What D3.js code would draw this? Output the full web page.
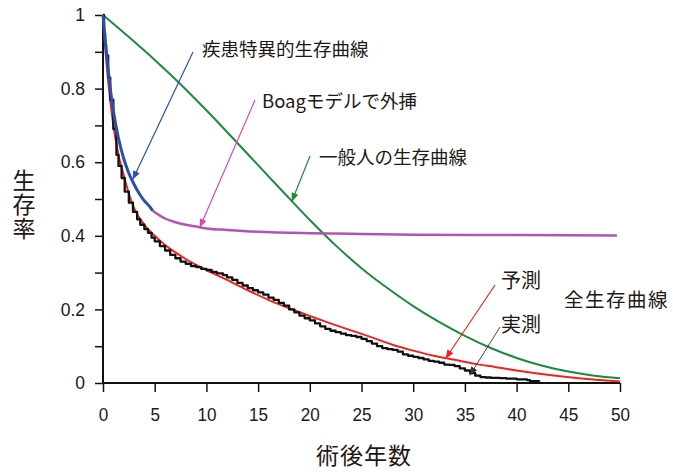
<!DOCTYPE html>
<html><head><meta charset="utf-8">
<script src="https://cdn.jsdelivr.net/npm/d3@7"></script>
<style>
html,body{margin:0;padding:0;background:#fff;}
svg{display:block;}
.tick text{font-family:"Liberation Sans",Arial,sans-serif;fill:#231815;}
.jp{font-family:"Noto Sans CJK JP","Noto Sans CJK SC",sans-serif;fill:#231815;}
</style></head>
<body>
<svg id="chart" width="673" height="472"></svg>
<script>
// ---- data ----
const xTicks = [0,5,10,15,20,25,30,35,40,45,50];
const yTickLabels = [0,0.2,0.4,0.6,0.8,1];
const yMinorTicks = [0,0.1,0.2,0.3,0.4,0.5,0.6,0.7,0.8,0.9,1];

// general population survival (green)
const generalYears  = [0,2.5,5,7.5,10,12.5,15,17.5,20,22.5,25,27.5,30,32.5,35,37.5,40,42.5,45,47.5,50];
const generalValues = [1,0.94,0.878,0.812,0.741,0.667,0.592,0.517,0.443,0.374,0.312,0.258,0.209,0.166,0.128,0.095,0.068,0.047,0.031,0.02,0.013];

// predicted overall survival (red)
const predYears  = [0,0.25,0.5,1,1.5,2,2.5,3,4,5,6,7,8,10,12,14,16,18,20,22,24,26,28,30,32,34,36,38,40,42,44,46,48,50];
const predValues = [1,0.9,0.82,0.70,0.62,0.565,0.515,0.475,0.43,0.40,0.375,0.355,0.337,0.307,0.28,0.252,0.226,0.203,0.182,0.162,0.143,0.124,0.104,0.088,0.074,0.063,0.052,0.043,0.034,0.026,0.019,0.013,0.008,0.004];

// observed overall survival (black, Kaplan-Meier steps)
const obsYears  = [0,0.1,0.2,0.3,0.5,0.7,1,1.3,1.5,1.8,2.1,2.5,2.9,3.3,3.6,4,4.35,4.7,5,5.5,6,6.5,7,7.5,8,8.5,9,9.5,10,10.5,11,11.6,12,12.5,13,13.5,14,14.5,15,15.5,16,16.5,17,17.5,18,18.5,19,19.5,20,20.5,21,21.5,22,22.5,23,23.5,24,24.5,25,25.5,26,26.5,27,27.5,28,28.5,29,29.5,30,30.5,31,31.5,32,32.5,33,33.5,34,34.5,35,35.5,36,36.5,37,37.5,38.4,39,40,41,41.3,42.2];
const obsValues = [1,0.95,0.92,0.89,0.83,0.77,0.69,0.62,0.59,0.557,0.52,0.49,0.465,0.445,0.43,0.418,0.408,0.395,0.385,0.372,0.36,0.348,0.339,0.33,0.324,0.318,0.315,0.31,0.307,0.302,0.298,0.293,0.287,0.28,0.272,0.265,0.258,0.252,0.246,0.24,0.232,0.226,0.218,0.21,0.2,0.192,0.183,0.176,0.17,0.162,0.154,0.147,0.142,0.138,0.134,0.13,0.128,0.125,0.12,0.114,0.107,0.1,0.095,0.092,0.09,0.085,0.078,0.074,0.071,0.068,0.064,0.06,0.058,0.055,0.05,0.049,0.046,0.04,0.034,0.027,0.02,0.016,0.015,0.014,0.013,0.012,0.01,0.008,0.005,0.004];

// disease-specific survival (blue)
const diseaseYears  = [0,0.25,0.5,1,1.5,2,2.5,3,3.5,4,4.5,4.8];
const diseaseValues = [1,0.92,0.85,0.74,0.665,0.61,0.57,0.54,0.515,0.495,0.48,0.468];

// Boag model extrapolation (purple)
const boagYears  = [4.8,5.5,6,7,8,9,10,12,15,20,25,30,40,49.7];
const boagValues = [0.468,0.455,0.447,0.437,0.43,0.425,0.42,0.416,0.411,0.407,0.405,0.403,0.402,0.401];

// ---- chart ----
const svg = d3.select("#chart");
const x = d3.scaleLinear().domain([0,50]).range([103,620]);
const y = d3.scaleLinear().domain([0,1]).range([383,15]);

const defs = svg.append("defs");
function marker(id,color){
  defs.append("marker").attr("id",id).attr("viewBox","0 0 10 10").attr("refX",9).attr("refY",5)
    .attr("markerWidth",9).attr("markerHeight",9).attr("markerUnits","userSpaceOnUse").attr("orient","auto")
    .append("path").attr("d","M0,1 L10,5 L0,9 Z").attr("fill",color);
}
const cGreen="#1d8a3c", cRed="#f0231e", cBlue="#2a4fb0", cPurple="#b254b4", cPink="#d94bb0", cBlack="#111";
marker("mBlue",cBlue); marker("mPink",cPink); marker("mGreen",cGreen); marker("mRed",cRed); marker("mBlack","#333");

// axes
const xAxis = d3.axisBottom(x).tickValues(xTicks).tickSize(9).tickPadding(8).tickFormat(d3.format("d"));
const gx = svg.append("g").attr("transform","translate(0,383)").call(xAxis);
gx.select(".domain").attr("d",`M${x(0)},0H${x(50)}`).attr("stroke","#111").attr("stroke-width",2);
gx.selectAll(".tick line").attr("stroke","#111").attr("stroke-width",1.5);
gx.selectAll(".tick text").attr("font-size",19).attr("y",32).attr("dy",0)
  .attr("dominant-baseline","central").attr("transform","scale(0.9,1)");

const yAxis = d3.axisLeft(y).tickValues(yMinorTicks).tickSize(8).tickPadding(8)
  .tickFormat(d => yTickLabels.some(v=>Math.abs(v-d)<1e-9) ? d3.format("~g")(d) : "");
const gy = svg.append("g").attr("transform",`translate(${x(0)},0)`).call(yAxis);
gy.select(".domain").attr("d",`M0,${y(0)}V${y(1)}`).attr("stroke","#111").attr("stroke-width",2);
gy.selectAll(".tick line").attr("stroke","#111").attr("stroke-width",1.5);
gy.selectAll(".tick text").attr("font-size",17.5).attr("x",-18);

// lines
function drawLine(xs,vs,color,w,curve){
  const pts = xs.map((d,i)=>[d,vs[i]]);
  svg.append("path").datum(pts)
    .attr("d",d3.line().x(d=>x(d[0])).y(d=>y(d[1])).curve(curve||d3.curveMonotoneX))
    .attr("fill","none").attr("stroke",color).attr("stroke-width",w).attr("stroke-linejoin","round");
}
drawLine(generalYears,generalValues,cGreen,2);
drawLine(predYears,predValues,cRed,2);
drawLine(obsYears,obsValues,cBlack,2.3,d3.curveStepAfter);
drawLine(boagYears,boagValues,cPurple,2.5);
drawLine(diseaseYears,diseaseValues,cBlue,3);

// annotations
function arrow(x1,y1,x2,y2,color,m,w){
  svg.append("line").attr("x1",x1).attr("y1",y1).attr("x2",x2).attr("y2",y2)
    .attr("stroke",color).attr("stroke-width",w||1.2).attr("marker-end",`url(#${m})`);
}
function label(tx,ty,t,size,ls){
  svg.append("text").attr("class","jp").attr("x",tx).attr("y",ty).attr("dominant-baseline","central")
    .attr("font-size",size).attr("letter-spacing",ls||0).text(t);
}
arrow(193,52,133,179,cBlue,"mBlue");
label(202,48,"疾患特異的生存曲線",18.5);
arrow(255,100,200,227,cPink,"mPink");
label(262,100,"Boagモデルで外挿",18.5);
arrow(310,156,292,201,cGreen,"mGreen");
label(319,156,"一般人の生存曲線",18.5);
arrow(495,285,446,358,cRed,"mRed");
label(501,279,"予測",20);
arrow(500,327,470,375,"#333","mBlack",0.9);
label(501,323,"実測",20);
label(564,298,"全生存曲線",19.5,1.5);

// axis titles
svg.append("text").attr("class","jp").attr("x",24).attr("y",205)
  .attr("text-anchor","middle").attr("font-size",23).attr("letter-spacing",1)
  .style("writing-mode","vertical-rl").style("text-orientation","upright").text("生存率");
svg.append("text").attr("class","jp").attr("x",364).attr("y",454).attr("text-anchor","middle")
  .attr("dominant-baseline","central").attr("font-size",23).attr("letter-spacing",1).text("術後年数");
</script>
</body></html>
